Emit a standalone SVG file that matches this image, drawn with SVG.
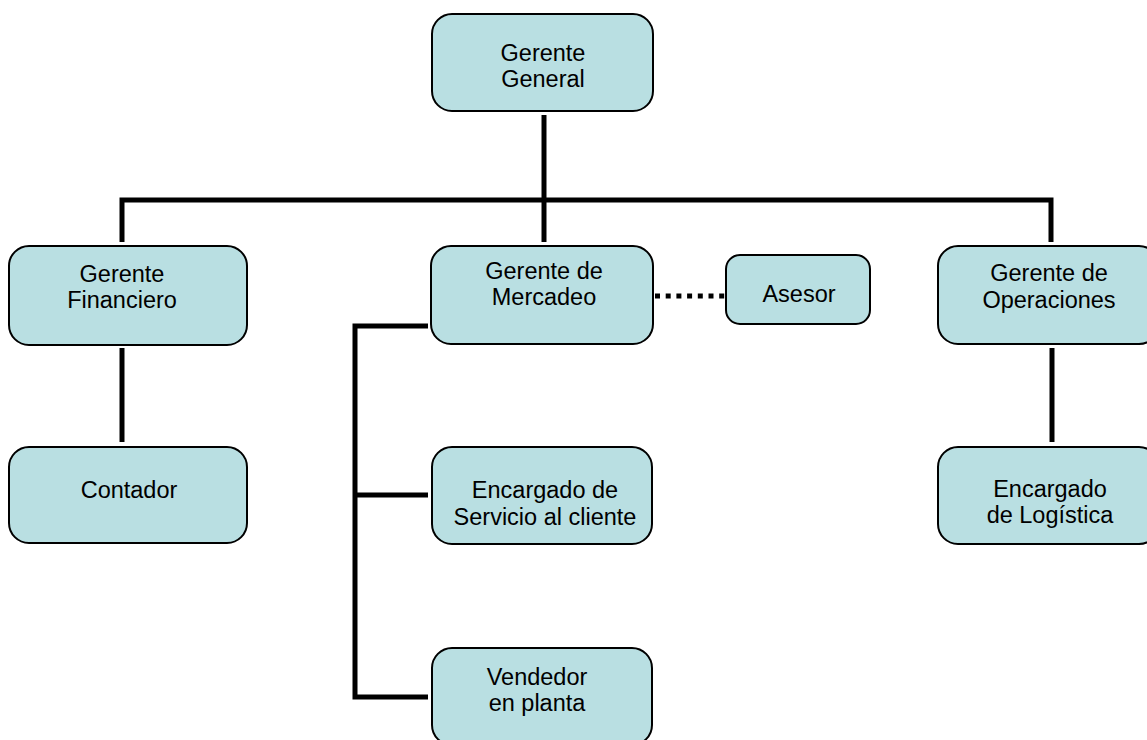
<svg xmlns="http://www.w3.org/2000/svg" width="1147" height="740" viewBox="0 0 1147 740">
  <style>
    .box { fill: #b9dfe2; stroke: #000; stroke-width: 2; }
    .lbl { font-family: "Liberation Sans", Arial, sans-serif; font-size: 23.5px; fill: #000; text-anchor: middle; }
    .link { fill: none; stroke: #000; stroke-width: 5; stroke-linejoin: miter; stroke-linecap: butt; }
    .dotted { fill: none; stroke: #000; stroke-width: 5; stroke-dasharray: 5 5.7; }
  </style>
  <rect width="1147" height="740" fill="#fff"/>

  <!-- connectors -->
  <g id="connectors">
    <line class="link" x1="544" y1="115" x2="544" y2="242"/>
    <polyline class="link" points="122,242 122,200 1051,200 1051,242"/>
    <line class="link" x1="122" y1="348" x2="122" y2="442"/>
    <line class="link" x1="1052" y1="348" x2="1052" y2="442"/>
    <polyline class="link" points="428,326 355,326 355,697 428,697"/>
    <line class="link" x1="355" y1="495" x2="428" y2="495"/>
    <line class="dotted" x1="655" y1="296" x2="725" y2="296"/>
  </g>

  <g id="gerente-general">
    <rect class="box" x="432" y="14" width="221" height="97" rx="20"/>
    <text class="lbl" x="543" y="61">Gerente</text>
    <text class="lbl" x="543" y="87">General</text>
  </g>

  <g id="gerente-financiero">
    <rect class="box" x="9" y="246" width="238" height="99" rx="20"/>
    <text class="lbl" x="122" y="282">Gerente</text>
    <text class="lbl" x="122" y="308">Financiero</text>
  </g>

  <g id="gerente-mercadeo">
    <rect class="box" x="431" y="246" width="222" height="98" rx="20"/>
    <text class="lbl" x="544" y="279">Gerente de</text>
    <text class="lbl" x="544" y="305">Mercadeo</text>
  </g>

  <g id="asesor">
    <rect class="box" x="726" y="255" width="144" height="69" rx="14"/>
    <text class="lbl" x="799" y="302">Asesor</text>
  </g>

  <g id="gerente-operaciones">
    <rect class="box" x="938" y="246" width="221" height="98" rx="20"/>
    <text class="lbl" x="1049" y="281">Gerente de</text>
    <text class="lbl" x="1049" y="308">Operaciones</text>
  </g>

  <g id="contador">
    <rect class="box" x="9" y="447" width="238" height="96" rx="20"/>
    <text class="lbl" x="129" y="498">Contador</text>
  </g>

  <g id="servicio-cliente">
    <rect class="box" x="432" y="447" width="220" height="97" rx="20"/>
    <text class="lbl" x="545" y="498">Encargado de</text>
    <text class="lbl" x="545" y="525">Servicio al cliente</text>
  </g>

  <g id="vendedor">
    <rect class="box" x="432" y="648" width="220" height="97" rx="20"/>
    <text class="lbl" x="537" y="685">Vendedor</text>
    <text class="lbl" x="537" y="711">en planta</text>
  </g>

  <g id="logistica">
    <rect class="box" x="938" y="447" width="221" height="97" rx="20"/>
    <text class="lbl" x="1050" y="497">Encargado</text>
    <text class="lbl" x="1050" y="523">de Logística</text>
  </g>
</svg>
